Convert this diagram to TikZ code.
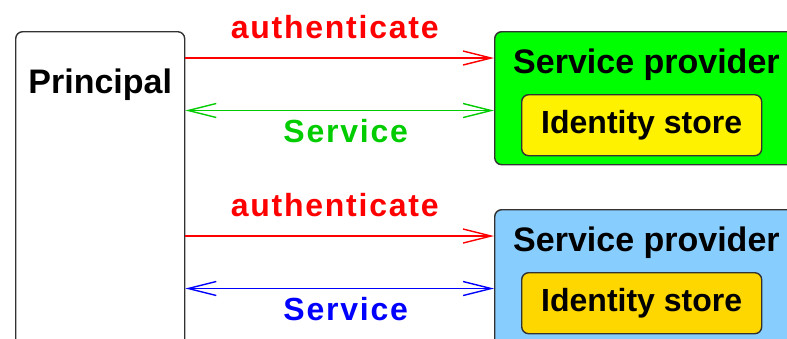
\documentclass[tikz,border=0pt]{standalone}
\usepackage{fontspec}
\setmainfont{Liberation Sans}
\usetikzlibrary{arrows.meta,positioning}
\definecolor{spgreen}{RGB}{0,255,0}
\definecolor{svgreen}{RGB}{0,204,0}
\definecolor{spblue}{RGB}{135,206,255}
\definecolor{idgold}{RGB}{255,215,0}
\definecolor{boxline}{RGB}{50,50,50}

\begin{document}
\begin{tikzpicture}[x=1pt,y=-1pt]
        \tikzset{ubox/.style = {
            rectangle,
            rounded corners=7pt,
            draw=boxline,
            line width=1.4pt,
            inner sep=0pt,
            anchor=north west } }
        \tikzset{ulabel/.style = {
            font=\fontsize{32}{36}\selectfont\bfseries,
            inner sep=0pt } }
        \tikzset{uwide/.style = {
            font=\fontsize{32}{36}\selectfont\bfseries\addfontfeature{LetterSpace=5.5},
            inner sep=0pt } }
        \tikzset{uarrow/.style = {
            line width=1.4pt,
            -{Straight Barb[length=28pt,width=14pt]} } }
        \tikzset{uboth/.style = {
            line width=1.4pt,
            {Straight Barb[length=28pt,width=14pt]}-{Straight Barb[length=28pt,width=14pt]} } }
        \clip (0,0) rectangle (787,338);
        \node[ubox, minimum width=169pt, minimum height=340pt] (prin) at (15,31) {};
        \node[ulabel, font=\fontsize{34}{38}\selectfont\bfseries, anchor=base] (printext)
            at ([yshift=-62pt]prin.north) {Principal};
        \foreach \i/\ytop/\h/\spc/\idc/\svc in {1/31/133/spgreen/yellow/svgreen,
                                                 2/209/150/spblue/idgold/blue}{
            \node[ubox, fill=\spc, minimum width=330pt, minimum height=\h pt] (sp\i) at (494,\ytop) {};
            \node[ulabel, font=\fontsize{34}{38}\selectfont\bfseries, anchor=base west] (sptext\i)
                at ([xshift=19pt,yshift=-42pt]sp\i.north west) {Service provider};
            \node[ubox, ulabel, fill=\idc, minimum width=240pt, minimum height=61pt, anchor=north west] (id\i)
                at ([xshift=27pt,yshift=-63pt]sp\i.north west) {Identity store};
            \coordinate (auth\i) at ([yshift=-27pt]sp\i.north west);
            \coordinate (serv\i) at ([yshift=-79.5pt]sp\i.north west);
            \draw[uarrow, red] (prin.east |- auth\i) -- node[uwide, midway, above=18pt, xshift=-5pt] (authtext\i) {authenticate} (auth\i);
            \draw[uboth, \svc] (prin.east |- serv\i) -- node[uwide, midway, below=8pt, xshift=6pt] (servtext\i) {Service} (serv\i);
        }
\end{tikzpicture}
\end{document}
